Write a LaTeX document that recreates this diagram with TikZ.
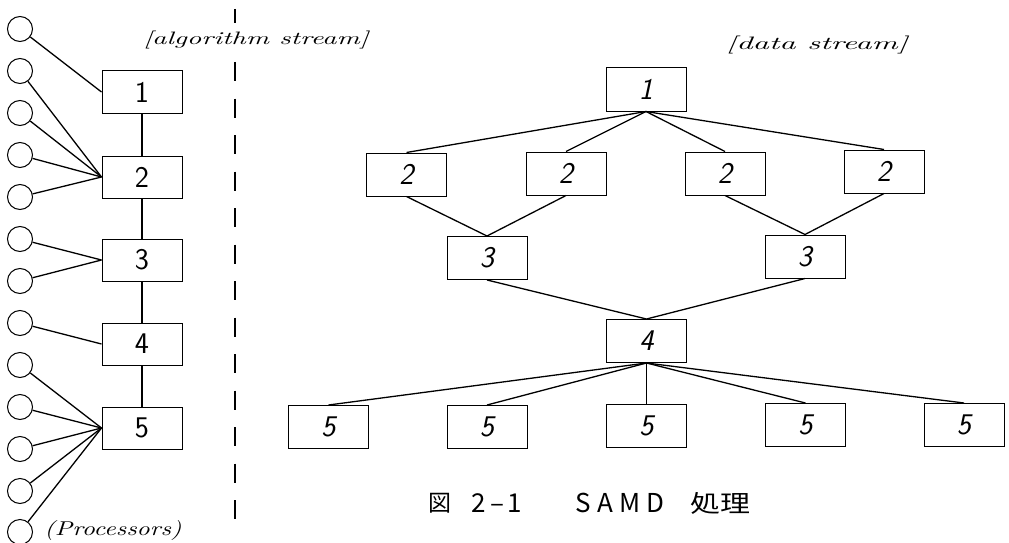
\documentclass[tikz,border=0pt]{standalone}
\usepackage{fontspec}
\usepackage{graphicx}
\newfontfamily\cjkfont{Noto Sans CJK JP}
\tikzset{
  proc/.style={draw, circle, minimum size=25pt, inner sep=0pt, line width=1pt},
  lbox/.style={draw, rectangle, minimum width=80pt, minimum height=42pt, inner sep=0pt, line width=1pt, font=\fontsize{30}{30}\selectfont\sffamily},
  rbox/.style={draw, rectangle, minimum width=80pt, minimum height=43pt, inner sep=0pt, line width=1pt, font=\fontsize{30}{30}\selectfont\sffamily\slshape},
  link/.style={line width=1.3pt},
  hand/.style={inner sep=0pt, font=\itshape},
  capt/.style={inner sep=0pt, font=\cjkfont}
}
\begin{document}
\begin{tikzpicture}[x=1pt, y=-1pt]
\useasboundingbox (0,0) rectangle (1009,543);
\fill[white] (0,0) rectangle (1009,543);

% divider
\coordinate (d0) at (235,9);
\coordinate (d1) at (235,23);
\coordinate (d2) at (235,62);
\coordinate (d3) at (235,520);
\draw[line width=1.1pt] (d0) -- (d1);
\draw[line width=1.1pt, dash pattern=on 19pt off 17.5pt] (d2) -- (d3);

% labels
\node[hand] (alglab) at (256,40) {\resizebox*{225pt}{18pt}{[algorithm stream]}};
\node[hand] (datlab) at (817,45) {\resizebox*{181pt}{18pt}{[data stream]}};
\node[hand] (proclab) at (113,530) {\resizebox*{137pt}{20pt}{(Processors)}};

% processors
\foreach \i/\y in {1/29,2/71,3/113,4/155,5/197,6/239,7/281,8/323,9/365,10/407,11/449,12/491,13/532}
  \node[proc] (c\i) at (20,\y) {};

% algorithm stream boxes
\node[lbox] (L1) at (142,92) {1};
\node[lbox] (L2) at (142,177) {2};
\node[lbox] (L3) at (142,260) {3};
\node[lbox] (L4) at (142,344) {4};
\node[lbox] (L5) at (142,428) {5};

\draw[link] (L1) -- (L2) (L2) -- (L3) (L3) -- (L4) (L4) -- (L5);
\draw[link] (c1) -- (L1.west);
\foreach \i in {2,3,4,5} \draw[link] (c\i) -- (L2.west);
\foreach \i in {6,7} \draw[link] (c\i) -- (L3.west);
\draw[link] (c8) -- (L4.west);
\foreach \i in {9,10,11,12,13} \draw[link] (c\i) -- (L5.west);

% data stream tree
\node[rbox] (R1) at (646,89.5) {1};
\node[rbox] (R21) at (406.5,174.5) {2};
\node[rbox] (R22) at (566,173.5) {2};
\node[rbox] (R23) at (725,173.5) {2};
\node[rbox] (R24) at (884,171.5) {2};
\node[rbox] (R31) at (487,258) {3};
\node[rbox] (R32) at (805,256.5) {3};
\node[rbox] (R4) at (646.5,341) {4};
\node[rbox] (R51) at (328.5,427) {5};
\node[rbox] (R52) at (487,427) {5};
\node[rbox] (R53) at (646.5,426) {5};
\node[rbox] (R54) at (805.5,425) {5};
\node[rbox] (R55) at (964,425) {5};

\foreach \n in {R21,R22,R23,R24} \draw[link] (R1.south) -- (\n.north);
\draw[link] (R21.south) -- (R31.north);
\draw[link] (R22.south) -- (R31.north);
\draw[link] (R23.south) -- (R32.north);
\draw[link] (R24.south) -- (R32.north);
\draw[link] (R31.south) -- (R4.north);
\draw[link] (R32.south) -- (R4.north);
\foreach \n in {R51,R52,R53,R54,R55} \draw[link] (R4.south) -- (\n.north);

% caption
\node[capt] (cap1) at (440,503) {\fontsize{23}{23}\selectfont 図};
\node[capt] (cap2) at (497,503) {\fontsize{26}{26}\selectfont 2\hspace{4pt}–\hspace{4pt}1};
\node[capt] (cap3) at (620,503) {\fontsize{26}{26}\selectfont S\hspace{6pt}A\hspace{6pt}M\hspace{6pt}D};
\node[capt] (cap4) at (720,503) {\resizebox*{60pt}{22pt}{処理}};
\end{tikzpicture}
\end{document}
